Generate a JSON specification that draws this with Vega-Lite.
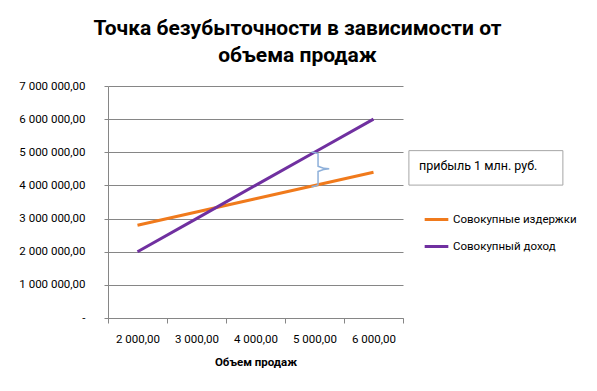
{
  "$schema": "https://vega.github.io/schema/vega-lite/v6.json",
  "autosize": "none",
  "width": 295,
  "height": 232,
  "padding": {"left": 108, "top": 86, "right": 194, "bottom": 73},
  "background": "white",
  "config": {
    "locale": {"number": {"decimal": ",", "thousands": " ", "grouping": [3], "currency": ["", ""]}},
    "font": "Roboto",
    "view": {"stroke": null}
  },
  "title": {
    "text": ["Точка безубыточности в зависимости от", "объема продаж"],
    "font": "Roboto",
    "fontSize": 21,
    "fontWeight": "bold",
    "color": "#000000",
    "anchor": "middle",
    "frame": "group",
    "dx": 42,
    "offset": 14,
    "lineHeight": 27
  },
  "encoding": {
    "x": {
      "field": "volume", "type": "quantitative",
      "scale": {"domain": [1500, 6500], "nice": false, "zero": false},
      "axis": {
        "title": "Объем продаж",
        "titleFont": "Roboto", "titleFontSize": 11.5, "titleFontWeight": "bold", "titleColor": "#000000",
        "titlePadding": 12,
        "values": [1500, 2500, 3500, 4500, 5500, 6500],
        "labelExpr": "datum.value >= 6500 ? '' : format(datum.value + 500, ',.2f')",
        "labelOffset": 29.5,
        "labelOverlap": false,
        "labelFlush": false,
        "labelBound": false,
        "labelFont": "Roboto", "labelFontSize": 11.5, "labelColor": "#000000",
        "labelPadding": 10,
        "grid": false,
        "domainColor": "#868686", "tickColor": "#868686", "tickSize": 5
      }
    },
    "y": {
      "field": "value", "type": "quantitative",
      "scale": {"domain": [0, 7000000], "nice": false},
      "axis": {
        "title": null,
        "values": [0, 1000000, 2000000, 3000000, 4000000, 5000000, 6000000, 7000000],
        "format": ",.2f",
        "labelExpr": "datum.value == 0 ? '-' : datum.label",
        "labelOverlap": false,
        "labelFlush": false,
        "labelBound": false,
        "labelFont": "Roboto", "labelFontSize": 11.5, "labelColor": "#000000",
        "labelPadding": 19,
        "grid": true, "gridColor": "#868686", "gridWidth": 1,
        "domainColor": "#868686", "tickColor": "#868686", "tickSize": 4
      }
    }
  },
  "layer": [
    {
      "data": {"values": [
        {"volume": 2000, "value": 2800000, "series": "Совокупные издержки"},
        {"volume": 3000, "value": 3200000, "series": "Совокупные издержки"},
        {"volume": 4000, "value": 3600000, "series": "Совокупные издержки"},
        {"volume": 5000, "value": 4000000, "series": "Совокупные издержки"},
        {"volume": 6000, "value": 4400000, "series": "Совокупные издержки"},
        {"volume": 2000, "value": 2000000, "series": "Совокупный доход"},
        {"volume": 3000, "value": 3000000, "series": "Совокупный доход"},
        {"volume": 4000, "value": 4000000, "series": "Совокупный доход"},
        {"volume": 5000, "value": 5000000, "series": "Совокупный доход"},
        {"volume": 6000, "value": 6000000, "series": "Совокупный доход"}
      ]},
      "mark": {"type": "line", "strokeWidth": 3, "clip": false},
      "encoding": {
        "color": {
          "field": "series", "type": "nominal",
          "scale": {"domain": ["Совокупные издержки", "Совокупный доход"], "range": ["#F07A1C", "#7030A0"]},
          "legend": {
            "title": null,
            "orient": "none",
            "legendX": 315,
            "legendY": 120,
            "symbolType": "stroke",
            "symbolStrokeWidth": 3,
            "symbolSize": 560,
            "labelFont": "Roboto",
            "labelFontSize": 11.5,
            "labelColor": "#000000",
            "rowPadding": 7,
            "labelOffset": 3
          }
        }
      }
    },
    {
      "data": {"values": [
        {"volume": 4950, "value": 5010000, "k": 1},
        {"volume": 5060, "value": 4960000, "k": 2},
        {"volume": 5060, "value": 4580000, "k": 3},
        {"volume": 5250, "value": 4500000, "k": 4},
        {"volume": 5060, "value": 4420000, "k": 5},
        {"volume": 5060, "value": 4020000, "k": 6},
        {"volume": 4950, "value": 3960000, "k": 7}
      ]},
      "mark": {"type": "line", "stroke": "#8EB0DA", "strokeWidth": 1.5, "interpolate": "monotone", "clip": false},
      "encoding": {
        "order": {"field": "k", "type": "quantitative"}
      }
    },
    {
      "data": {"values": [{"volume": 6600, "volume2": 9210, "value": 5050000, "value2": 4010000}]},
      "mark": {"type": "rect", "fill": "white", "stroke": "#A6A6A6", "strokeWidth": 1, "clip": false},
      "encoding": {
        "x2": {"field": "volume2"},
        "y2": {"field": "value2"}
      }
    },
    {
      "data": {"values": [{"volume": 6770, "value": 4600000, "label": "прибыль 1 млн. руб."}]},
      "mark": {"type": "text", "align": "left", "baseline": "middle", "font": "Roboto", "fontSize": 12.5, "color": "#000000", "clip": false},
      "encoding": {
        "text": {"field": "label"}
      }
    }
  ]
}
